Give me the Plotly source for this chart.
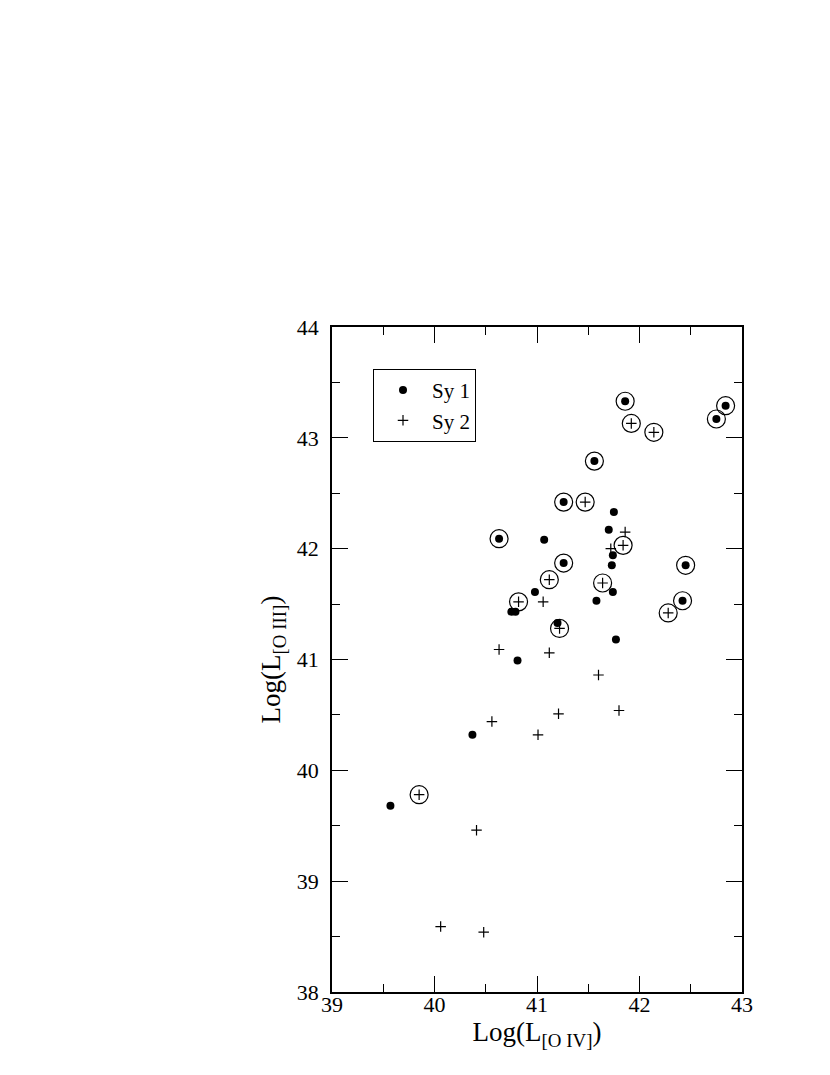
import plotly.graph_objects as go

# Sy 1 objects (filled dots); circled flag marks the ringed points
sy1_oiv = [41.86, 42.84, 42.75, 41.56, 41.26, 40.63, 41.26, 42.45, 42.42,
           41.75, 41.07, 41.70, 41.74, 41.73, 41.74, 40.98, 41.58, 40.75,
           40.79, 41.20, 41.77, 40.81, 40.37, 39.57]
sy1_oiii = [43.33, 43.29, 43.17, 42.79, 42.42, 42.09, 41.87, 41.85, 41.53,
            42.33, 42.08, 42.17, 41.94, 41.85, 41.61, 41.61, 41.53, 41.43,
            41.43, 41.33, 41.18, 40.99, 40.32, 39.68]
sy1_circled = [1, 1, 1, 1, 1, 1, 1, 1, 1,
               0, 0, 0, 0, 0, 0, 0, 0, 0,
               0, 0, 0, 0, 0, 0]

# Sy 2 objects (plus signs)
sy2_oiv = [41.92, 42.14, 41.47, 41.84, 41.12, 41.64, 40.82, 42.28, 41.22, 39.85,
           41.86, 41.72, 41.06, 40.63, 41.12, 41.60, 41.21, 41.80, 40.56, 41.01,
           40.41, 40.06, 40.48]
sy2_oiii = [43.13, 43.05, 42.42, 42.03, 41.72, 41.69, 41.52, 41.42, 41.28, 39.78,
            42.15, 42.00, 41.52, 41.09, 41.06, 40.86, 40.51, 40.54, 40.44, 40.32,
            39.46, 38.59, 38.54]
sy2_circled = [1, 1, 1, 1, 1, 1, 1, 1, 1, 1,
               0, 0, 0, 0, 0, 0, 0, 0, 0, 0,
               0, 0, 0]

FONT = "Liberation Serif"

ring_x = [x for x, c in zip(sy1_oiv, sy1_circled) if c] + \
         [x for x, c in zip(sy2_oiv, sy2_circled) if c]
ring_y = [y for y, c in zip(sy1_oiii, sy1_circled) if c] + \
         [y for y, c in zip(sy2_oiii, sy2_circled) if c]

fig = go.Figure()

fig.add_trace(go.Scatter(
    x=sy1_oiv, y=sy1_oiii, mode='markers', name='Sy 1',
    marker=dict(symbol='circle', size=8, color='black')
))
fig.add_trace(go.Scatter(
    x=sy2_oiv, y=sy2_oiii, mode='markers', name='Sy 2',
    marker=dict(symbol='cross-thin', size=7.5, color='black',
                line=dict(width=1.2, color='black'))
))
fig.add_trace(go.Scatter(
    x=ring_x, y=ring_y, mode='markers', showlegend=False,
    marker=dict(symbol='circle-open', size=18, color='black',
                line=dict(width=1.2, color='black'))
))

axis_common = dict(
    showline=True, linecolor='black', linewidth=1.5, mirror='allticks',
    ticks='inside', ticklen=16, tickwidth=1.3, tickcolor='black',
    showgrid=False, zeroline=False,
    tickfont=dict(family=FONT, size=22, color='black'),
    minor=dict(ticks='inside', ticklen=8, tickwidth=1.3, tickcolor='black',
               dtick=0.5, showgrid=False),
)

# page body has an 8px margin, so the margins are shifted by 8px
fig.update_layout(
    width=830, height=1075,
    paper_bgcolor='white', plot_bgcolor='white',
    margin=dict(l=324, r=96, t=319, b=91),
    font=dict(family=FONT, color='black'),
    xaxis=dict(range=[39, 43], dtick=1, tick0=39, ticklabelstandoff=-8,
               title=dict(text='Log(L<sub>[O IV]</sub>)',
                          font=dict(family=FONT, size=27), standoff=0),
               **axis_common),
    yaxis=dict(range=[38, 44], dtick=1, tick0=38, ticklabelstandoff=7,
               title=dict(text='Log(L<sub>[O III]</sub>)',
                          font=dict(family=FONT, size=27), standoff=8),
               **axis_common),
    legend=dict(x=0.1, y=0.937, xanchor='left', yanchor='top',
                bordercolor='black', borderwidth=1, bgcolor='white',
                font=dict(family=FONT, size=21), itemwidth=48,
                tracegroupgap=0),
    showlegend=True,
)

fig.write_html("out.html")
